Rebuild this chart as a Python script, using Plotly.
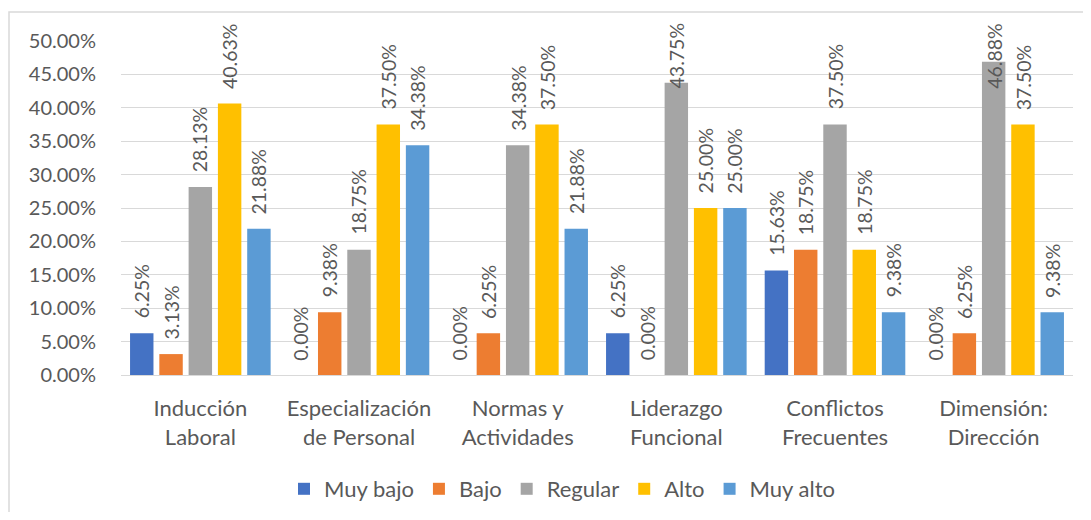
import plotly.graph_objects as go

categories = ["Inducción<br>Laboral", "Especialización<br>de Personal", "Normas y<br>Actividades",
              "Liderazgo<br>Funcional", "Conflictos<br>Frecuentes", "Dimensión:<br>Dirección"]
series_names = ["Muy bajo", "Bajo", "Regular", "Alto", "Muy alto"]
muy_bajo = [0.0625, 0.0, 0.0, 0.0625, 0.1563, 0.0]
bajo = [0.0313, 0.0938, 0.0625, 0.0, 0.1875, 0.0625]
regular = [0.2813, 0.1875, 0.3438, 0.4375, 0.3750, 0.4688]
alto = [0.4063, 0.3750, 0.3750, 0.2500, 0.1875, 0.3750]
muy_alto = [0.2188, 0.3438, 0.2188, 0.2500, 0.0938, 0.0938]
y_ticks = [i * 0.05 for i in range(11)]

series_values = [muy_bajo, bajo, regular, alto, muy_alto]
colors = ["#4472C4", "#ED7D31", "#A5A5A5", "#FFC000", "#5B9BD5"]

FONT = "Lato"
TXT = "#595959"
# page has an 8px body margin, so the figure is sized/offset to compensate
OFF = 8
W, H = 1091 - 2 * OFF, 520 - 2 * OFF
PW, PH = 952, 334
ML, MT = 121 - OFF, 41 - OFF
MR = W - ML - PW
MB = H - MT - PH

fig = go.Figure()
for name, vals, col in zip(series_names, series_values, colors):
    fig.add_trace(go.Bar(name=name, x=categories, y=vals, marker=dict(color=col, line=dict(width=0))))

# data labels (rotated, outside end, clamped at top of chart like Excel)
slot = PW / len(categories) * (1 - 0.077) / len(series_names)
label_pad = 0.019
label_cap = 0.4257
annotations = []
for si, vals in enumerate(series_values):
    for ci, v in enumerate(vals):
        annotations.append(dict(
            x=categories[ci], y=min(v + label_pad, label_cap), xref="x", yref="y",
            text=f"{v*100:.2f}%", showarrow=False, textangle=-90,
            xanchor="center", yanchor="bottom",
            xshift=(si - (len(series_names) - 1) / 2) * slot,
            font=dict(family=FONT, size=19.5, color=TXT),
        ))

fig.update_layout(
    width=W, height=H,
    margin=dict(l=ML, r=MR, t=MT, b=MB, autoexpand=False),
    paper_bgcolor="white", plot_bgcolor="white",
    barmode="group", bargap=0.077, bargroupgap=0.2,
    font=dict(family=FONT, size=19, color=TXT),
    showlegend=True,
    legend=dict(orientation="h", x=(562 - 121) / PW, xanchor="center", y=-(489 - 375) / PH,
                yanchor="middle", font=dict(family=FONT, size=22, color=TXT), itemwidth=30,
                traceorder="normal", tracegroupgap=0),
    annotations=annotations,
    shapes=[dict(type="rect", xref="paper", yref="paper",
                 x0=(9 - 121) / PW, x1=1.2, y0=-0.8, y1=1 + (41 - 12) / PH,
                 line=dict(color="#D9D9D9", width=1.5), fillcolor="rgba(0,0,0,0)", layer="below")],
)
fig.update_xaxes(showgrid=False, showline=False, ticks="", tickfont=dict(family=FONT, size=22, color=TXT),
                 ticklabelstandoff=18, automargin=False)
fig.update_yaxes(range=[0, 0.5], tickvals=y_ticks, tickformat=".2%", showgrid=True, gridcolor="#D9D9D9",
                 gridwidth=1, zeroline=True, zerolinecolor="#D9D9D9", zerolinewidth=1, showline=False,
                 ticks="", tickfont=dict(family=FONT, size=20, color=TXT), ticklabelstandoff=24,
                 automargin=False)

fig.write_html("out.html")
